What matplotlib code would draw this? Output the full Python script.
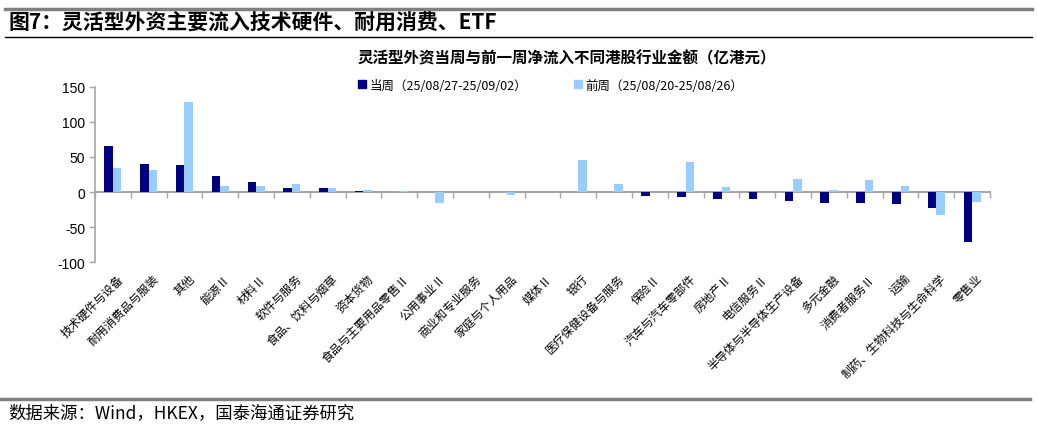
import matplotlib
matplotlib.use("Agg")
import matplotlib.pyplot as plt
import numpy as np
from matplotlib.lines import Line2D

plt.rcParams['font.family'] = ['Noto Sans CJK SC', 'DejaVu Sans']
plt.rcParams['axes.unicode_minus'] = False

categories = ['技术硬件与设备', '耐用消费品与服装', '其他', '能源Ⅱ', '材料Ⅱ', '软件与服务',
              '食品、饮料与烟草', '资本货物', '食品与主要用品零售Ⅱ', '公用事业Ⅱ', '商业和专业服务',
              '家庭与个人用品', '媒体Ⅱ', '银行', '医疗保健设备与服务', '保险Ⅱ', '汽车与汽车零部件',
              '房地产Ⅱ', '电信服务Ⅱ', '半导体与半导体生产设备', '多元金融', '消费者服务Ⅱ', '运输',
              '制药、生物科技与生命科学', '零售业']
this_week = [66, 40, 38.5, 23, 14, 5.5, 5.5, 1.5, 0.5, 0.5, 0.5, 0.2, 0.3, 0.5, 0.5,
             -5, -6.5, -9.5, -9.5, -13, -16, -16, -17, -23, -71]
last_week = [34, 32, 128, 9, 8.5, 12, 5.5, 3, 1.5, -15, 0.3, -4, 0.2, 45.5, 11.5,
             0.5, 43, 7.5, 0.2, 19, 2.5, 16.5, 8.5, -33, -14]
label_this = '当周（25/08/27-25/09/02）'
label_last = '前周（25/08/20-25/08/26）'
yticks = [-100, -50, 0, 50, 100, 150]

dark = '#000080'
light = '#99CCFF'
grey = '#A6A6A6'

fig = plt.figure(figsize=(10.37, 4.27), dpi=100)
ax = fig.add_axes([0.0916, 0.384, 0.8631, 0.410])

x = np.arange(len(categories))
w = 0.24
ax.bar(x - w / 2, this_week, w, color=dark, label=label_this)
ax.bar(x + w / 2, last_week, w, color=light, label=label_last)

ax.set_xlim(-0.5, len(categories) - 0.5)
ax.set_ylim(-100, 150)
ax.set_yticks(yticks)
ax.set_yticklabels([str(v) for v in yticks], fontfamily='Liberation Sans', fontsize=10)
ax.tick_params(axis='y', direction='out', length=4, color=grey, width=1, pad=3)

ax.set_xticks(x + 0.1)
ax.set_xticklabels(categories, rotation=45, ha='right', rotation_mode='anchor', fontsize=8.5)
ax.tick_params(axis='x', length=0, pad=7)

for s in ['top', 'right', 'bottom']:
    ax.spines[s].set_visible(False)
ax.spines['left'].set_color(grey)
ax.spines['left'].set_linewidth(1.2)

# zero line with category boundary ticks
sec = ax.secondary_xaxis(100 / 250)
sec.set_xticks(np.arange(len(categories) + 1) - 0.5)
sec.set_xticklabels([])
sec.tick_params(direction='out', length=4, color=grey, width=1)
sec.spines['bottom'].set_color(grey)
sec.spines['bottom'].set_linewidth(1.5)

# legend
handles = [Line2D([], [], marker='s', linestyle='', color=dark, markersize=6),
           Line2D([], [], marker='s', linestyle='', color=light, markersize=6)]
fig.legend(handles, [label_this, label_last], loc='center left', bbox_to_anchor=(0.338, 0.798),
           ncol=2, frameon=False, fontsize=9, handletextpad=0.1, columnspacing=3.6,
           borderaxespad=0, handlelength=1.0)

# header / footer
fig.add_artist(Line2D([0.005, 0.995], [1 - 10 / 427] * 2, color='#808080', linewidth=2.5))
fig.text(0.008, 1 - 23 / 427, '图7：灵活型外资主要流入技术硬件、耐用消费、ETF', fontsize=15,
         fontweight='bold', va='center', ha='left')
fig.add_artist(Line2D([0.005, 0.995], [1 - 38 / 427] * 2, color='black', linewidth=1))
fig.text(0.547, 1 - 58 / 427, '灵活型外资当周与前一周净流入不同港股行业金额（亿港元）', fontsize=11.2,
         fontweight='bold', va='center', ha='center')
fig.add_artist(Line2D([0.0, 0.993], [1 - 400 / 427] * 2, color='#808080', linewidth=2.5))
fig.text(0.008, 1 - 413 / 427, '数据来源：Wind，HKEX，国泰海通证券研究', fontsize=12.5,
         va='center', ha='left')

fig.savefig('out.png', dpi=100)
